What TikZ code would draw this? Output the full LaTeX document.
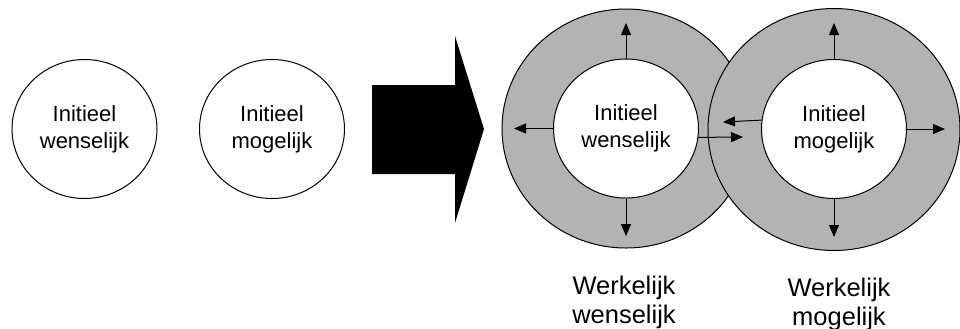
\documentclass[tikz,border=0pt]{standalone}
\usepackage{fontspec}
\setmainfont{Liberation Sans}
\usetikzlibrary{shapes.geometric,arrows.meta}
\definecolor{ringgray}{RGB}{179,179,179}
\begin{document}
\begin{tikzpicture}[x=0.5pt,y=-0.5pt,
    kern/.style={ellipse,draw,fill=white,line width=0.5pt,minimum width=72.5pt,
      minimum height=69.5pt,inner sep=0pt,align=center,font=\fontsize{11}{13.5}\selectfont},
    ring/.style={fill=ringgray,draw,line width=0.5pt},
    pijl/.style={-{Triangle[length=6pt,width=5pt]},line width=0.5pt},
    uitkomst/.style={align=center,font=\fontsize{12.75}{14.5}\selectfont}]
  \useasboundingbox (0,0) rectangle (960,328);
  % initieel
  \node[kern] (iw) at (84.5,129) {Initieel\\wenselijk};
  \node[kern] (im) at (272,129) {Initieel\\mogelijk};
  % grote pijl
  \fill (372,85) -- (455,85) -- (455,36) -- (484,129) -- (455,223) -- (455,174) -- (372,174) -- cycle;
  % werkelijk
  \filldraw[ring] (626,128.5) ellipse [x radius=124, y radius=119.5];
  \node[kern] (ww) at (626,128.5) {Initieel\\wenselijk};
  \filldraw[ring] (834,129.5) ellipse [x radius=126, y radius=121];
  \node[kern] (wm) at (834,129) {Initieel\\mogelijk};
  \coordinate (ww n) at (626,23);
  \coordinate (ww s) at (626,236);
  \coordinate (ww w) at (514,128.5);
  \coordinate (ww e) at (743,137);
  \coordinate (wm n) at (834,23);
  \coordinate (wm s) at (834,237);
  \coordinate (wm w) at (723,122);
  \coordinate (wm e) at (945,129);
  \draw[pijl] (ww.north) -- (ww n);
  \draw[pijl] (ww.south) -- (ww s);
  \draw[pijl] (ww.west) -- (ww w);
  \draw[pijl] (ww.-7) -- (ww e);
  \draw[pijl] (wm.north) -- (wm n);
  \draw[pijl] (wm.south) -- (wm s);
  \draw[pijl] (wm.173) -- (wm w);
  \draw[pijl] (wm.east) -- (wm e);
  \node[uitkomst] (lw) at (624,302) {Werkelijk\\wenselijk};
  \node[uitkomst] (lm) at (839,304) {Werkelijk\\mogelijk};
\end{tikzpicture}
\end{document}
